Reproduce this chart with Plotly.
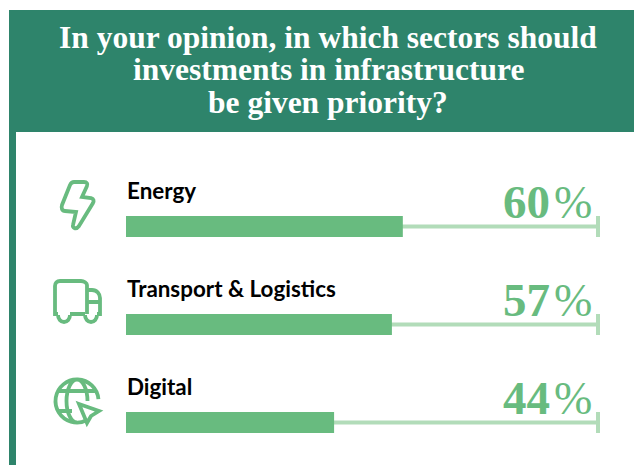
import math
import re
import plotly.graph_objects as go

# ---- data -------------------------------------------------------------
categories = ["Energy", "Transport &amp; Logistics", "Digital"]
percent_labels = [60, 57, 44]
bar_lengths = [58.4, 56.1, 43.9]   # as drawn in the picture
track_end = [100, 100, 100]
title_lines = ["In your opinion, in which sectors should",
               "investments in infrastructure",
               "be given priority?"]

W, H = 634, 465
DARK = "#2e846b"
GREEN = "#68bb7f"
LIGHT = "#b2dcb9"

def px(x): return x / W
def py(y): return 1 - y / H

def arc(cx, cy, rx, ry, a0, a1, move=False):
    """Cubic approximation of an elliptical arc, pixel coordinates, degrees."""
    n = max(1, math.ceil(abs(a1 - a0) / 45))
    step = math.radians(a1 - a0) / n
    k = 4 / 3 * math.tan(step / 4)
    a = math.radians(a0)
    d = f"M{cx + rx * math.cos(a):.2f},{cy + ry * math.sin(a):.2f}" if move else ""
    for _ in range(n):
        b = a + step
        d += ("C{:.2f},{:.2f} {:.2f},{:.2f} {:.2f},{:.2f}".format(
            cx + rx * (math.cos(a) - k * math.sin(a)), cy + ry * (math.sin(a) + k * math.cos(a)),
            cx + rx * (math.cos(b) + k * math.sin(b)), cy + ry * (math.sin(b) - k * math.cos(b)),
            cx + rx * math.cos(b), cy + ry * math.sin(b)))
        a = b
    return d

def to_paper(d):
    """Convert a pixel-coordinate path string to paper fractions."""
    out = []
    for tok in re.findall(r"[A-Za-z]|-?[\d.]+,-?[\d.]+", d):
        if tok.isalpha():
            out.append(tok)
        else:
            x, y = tok.split(",")
            out.append(f"{px(float(x)):.5f},{py(float(y)):.5f} ")
    return "".join(out)

bolt = ("M74,182 L84,182 C87,182 88,184 87,186 L82,197 L91,198 C94,199 94,201 93,203 "
        "L79,226 C76,230 72,228 73,225 L76,212 L65,211 C62,211 61,208 62,205 "
        "L70,185 C71,183 72,182 74,182 Z")
truck = ("M87,314 L87,285 C87,283 84,281 81,281 L60,281 C57,281 55,283 55,286 L55,314 L58,314 "
         "M87,290 L92,290 C97,290 100,294 100,298 L100,314 L97,314 "
         "M87,302 L100,302 M70,314 L85,314 "
         + arc(64, 315, 6, 7, 0, 180, move=True) + " "
         + arc(91, 315, 6, 7, 0, 180, move=True))
globe = (arc(77, 401, 21.5, 21.5, -5, -295, move=True) + " "
         + arc(77, 401, 10.5, 21.5, -90, 0, move=True) + " "
         + arc(77, 401, 10.5, 21.5, 90, 270, move=True) + " "
         + "M58,391 L96,391 M57,411 L72,411 "
         + "M79,404 L99,411 L91,416 L87,423 Z")

fig = go.Figure()

# track, then end cap, then filled bar
fig.add_trace(go.Bar(y=categories, x=track_end, orientation="h", width=4 / 98,
                     marker=dict(color=LIGHT, line_width=0), hoverinfo="skip"))
fig.add_trace(go.Bar(y=categories, x=[0.85] * 3, base=[99.15] * 3, orientation="h", width=21 / 98,
                     marker=dict(color=LIGHT, line_width=0), hoverinfo="skip"))
fig.add_trace(go.Bar(y=categories, x=bar_lengths, orientation="h", width=21 / 98,
                     marker=dict(color=GREEN, line_width=0)))

shapes = [
    dict(type="rect", xref="paper", yref="paper", x0=px(9), x1=1, y0=py(132), y1=py(10),
         fillcolor=DARK, line_width=0, layer="below"),
    dict(type="rect", xref="paper", yref="paper", x0=px(9), x1=px(16), y0=0, y1=py(132),
         fillcolor=DARK, line_width=0, layer="below"),
]
for d in (bolt, truck, globe):
    shapes.append(dict(type="path", xref="paper", yref="paper", path=to_paper(d),
                       line=dict(color=GREEN, width=3.8), fillcolor="rgba(0,0,0,0)"))

annotations = []
for i, line in enumerate(title_lines):
    annotations.append(dict(text=f"<b>{line}</b>", xref="paper", yref="paper",
                            x=px(328), y=py(37 + 33 * i), xanchor="center", yanchor="middle",
                            showarrow=False,
                            font=dict(family="Liberation Serif", size=31.5, color="white")))
for c, p in zip(categories, percent_labels):
    annotations.append(dict(text=f"<b>{c}</b>", x=0, y=c, xref="x", yref="y", xanchor="left", yanchor="middle",
                            yshift=36, xshift=-1, showarrow=False,
                            font=dict(family="Lato", size=22.4, color="black")))
    annotations.append(dict(text=f"<b>{p}</b>\u200a<span style=\"font-size:46px\">%</span>",
                            x=98.7, y=c, xref="x", yref="y",
                            xanchor="right", yanchor="middle", yshift=25, showarrow=False,
                            font=dict(family="Liberation Serif", size=47, color=GREEN)))

fig.update_layout(
    width=W, height=H, autosize=False, showlegend=False, barmode="overlay",
    margin=dict(l=0, r=0, t=0, b=0, pad=0),
    paper_bgcolor="white", plot_bgcolor="rgba(0,0,0,0)",
    shapes=shapes, annotations=annotations,
    xaxis=dict(domain=[px(126), px(600)], range=[0, 100], visible=False, fixedrange=True),
    yaxis=dict(domain=[0, py(132)], type="category", categoryorder="array", categoryarray=categories,
               range=[2 + 42.5 / 98, -94.5 / 98], visible=False, fixedrange=True),
)

fig.write_html("out.html", config={"displayModeBar": False},
               post_script="document.body.style.margin='0';document.body.style.overflow='hidden';")
